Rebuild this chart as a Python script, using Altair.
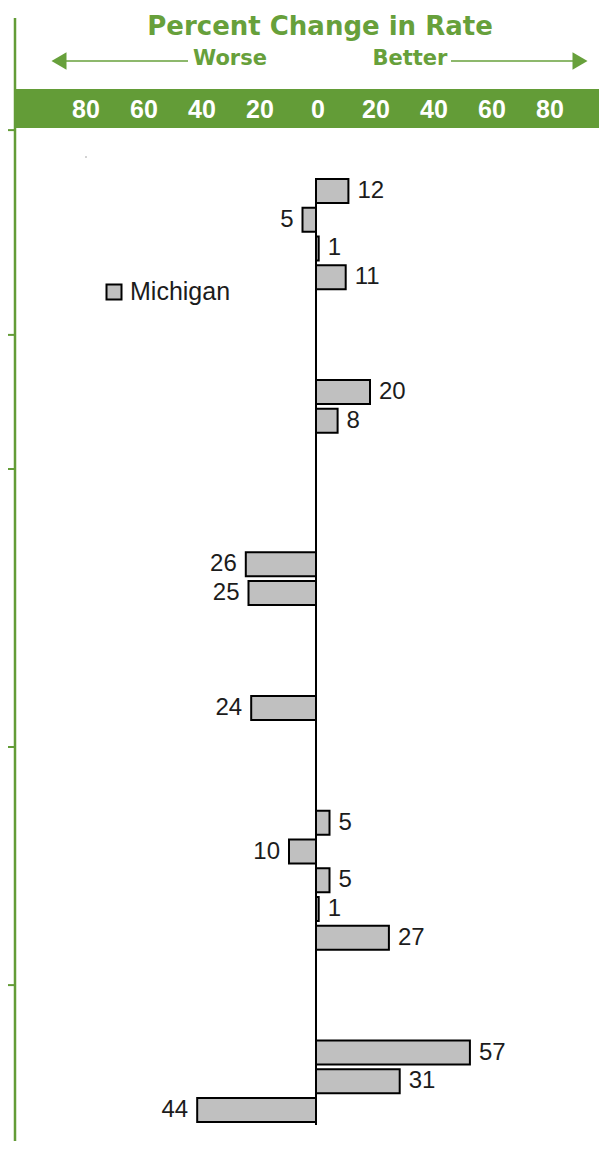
import altair as alt
import pandas as pd

# ---- data ----
rows = [0, 1, 2, 3, 7, 8, 13, 14, 18, 22, 23, 24, 25, 26, 30, 31, 32]
values = [12, -5, 1, 11, 20, 8, -26, -25, -24, 5, -10, 5, 1, 27, 57, 31, -44]
tick_labels = [-80, -60, -40, -20, 0, 20, 40, 60, 80]
group_breaks = [-2.12, 5.01, 9.68, 19.36, 27.65]
series_name = "Michigan"
title_text = "Percent Change in Rate"

GREEN = "#639c37"
GREEN_TXT = "#67a03b"
BAR_FILL = "#c0c0c0"
TXT = "#1c1c1c"
FONT = "Liberation Sans"
BFONT = "DejaVu Sans"

W, H = 591, 1133

df = pd.DataFrame({"row": rows, "value": values})
one = pd.DataFrame({"a": [0]})

x_bar = alt.Scale(domain=[-114.07, 104.81], nice=False, zero=False, padding=0)
y_row = alt.Scale(domain=[-6.372, 33.078], nice=False, zero=False, reverse=True, padding=0)
x_head = alt.Scale(domain=[-106.9, 96.9], nice=False, zero=False, padding=0)

bars = alt.Chart(df).mark_bar(
    orient="horizontal", size=24, fill=BAR_FILL, stroke="black", strokeWidth=2
).encode(
    x=alt.X("value:Q", scale=x_bar, axis=None),
    x2=alt.X2Datum(0),
    y=alt.Y("row:Q", scale=y_row, axis=None),
)

lab_pos = alt.Chart(df).transform_filter("datum.value >= 0").transform_calculate(
    lab="abs(datum.value)"
).mark_text(
    align="left", baseline="middle", dx=9, font=FONT, fontSize=24, color=TXT
).encode(
    x=alt.X("value:Q", scale=x_bar, axis=None),
    y=alt.Y("row:Q", scale=y_row, axis=None),
    text="lab:Q",
)

lab_neg = alt.Chart(df).transform_filter("datum.value < 0").transform_calculate(
    lab="abs(datum.value)"
).mark_text(
    align="right", baseline="middle", dx=-9, font=FONT, fontSize=24, color=TXT
).encode(
    x=alt.X("value:Q", scale=x_bar, axis=None),
    y=alt.Y("row:Q", scale=y_row, axis=None),
    text="lab:Q",
)

zero_df = pd.DataFrame({"x": [0], "y1": [-0.45], "y2": [32.52]})
zero_rule = alt.Chart(zero_df).mark_rule(color="black", strokeWidth=2).encode(
    x=alt.X("x:Q", scale=x_bar, axis=None),
    y=alt.Y("y1:Q", scale=y_row, axis=None),
    y2="y2:Q",
)

seps = alt.Chart(pd.DataFrame({"b": group_breaks})).mark_rule(
    color=GREEN, strokeWidth=2
).encode(
    x=alt.value(0), x2=alt.value(7),
    y=alt.Y("b:Q", scale=y_row, axis=None),
)

main = alt.layer(seps, bars, zero_rule, lab_pos, lab_neg)

# ---- header ----
band = alt.Chart(one).mark_rect(color=GREEN).encode(
    x=alt.value(8), x2=alt.value(W + 10), y=alt.value(81), y2=alt.value(120)
)
vline = alt.Chart(one).mark_rule(color=GREEN, strokeWidth=2.5).encode(
    x=alt.value(7), y=alt.value(10), y2=alt.value(H + 10)
)
ticks = alt.Chart(pd.DataFrame({"tick": tick_labels})).transform_calculate(
    t="abs(datum.tick)"
).mark_text(
    align="center", baseline="middle", font=FONT, fontWeight="bold",
    fontSize=25, color="white"
).encode(
    x=alt.X("tick:Q", scale=x_head, axis=None),
    y=alt.value(102),
    text="t:Q",
)
title = alt.Chart(one).mark_text(
    text=title_text, align="center", baseline="alphabetic", font=BFONT,
    fontWeight="bold", fontSize=26, color=GREEN_TXT
).encode(x=alt.value(312), y=alt.value(27))
worse = alt.Chart(one).mark_text(
    text="Worse", align="center", baseline="alphabetic", font=BFONT,
    fontWeight="bold", fontSize=21, color=GREEN_TXT
).encode(x=alt.value(222), y=alt.value(57))
better = alt.Chart(one).mark_text(
    text="Better", align="center", baseline="alphabetic", font=BFONT,
    fontWeight="bold", fontSize=21, color=GREEN_TXT
).encode(x=alt.value(402), y=alt.value(57))
arr_l = alt.Chart(one).mark_rule(color=GREEN_TXT, strokeWidth=1.5).encode(
    x=alt.value(56), x2=alt.value(180), y=alt.value(53)
)
arr_r = alt.Chart(one).mark_rule(color=GREEN_TXT, strokeWidth=1.5).encode(
    x=alt.value(443), x2=alt.value(568), y=alt.value(53)
)
head_l = alt.Chart(one).mark_point(
    shape="triangle-left", filled=True, fill=GREEN_TXT, opacity=1, size=300
).encode(x=alt.value(51), y=alt.value(53))
head_r = alt.Chart(one).mark_point(
    shape="triangle-right", filled=True, fill=GREEN_TXT, opacity=1, size=300
).encode(x=alt.value(572), y=alt.value(53))

# ---- legend ----
leg_box = alt.Chart(one).mark_point(
    shape="square", filled=True, fill=BAR_FILL, stroke="black",
    strokeWidth=2, opacity=1, size=225
).encode(x=alt.value(106), y=alt.value(284))
leg_txt = alt.Chart(one).mark_text(
    text=series_name, align="left", baseline="alphabetic", font=FONT,
    fontSize=25, color=TXT
).encode(x=alt.value(122), y=alt.value(292))
dot = alt.Chart(one).mark_point(
    shape="circle", filled=True, color="#888888", size=2, opacity=1
).encode(x=alt.value(78), y=alt.value(149))

chart = alt.layer(
    band, vline, main, ticks, title, worse, better, arr_l, arr_r, head_l, head_r,
    leg_box, leg_txt, dot
).resolve_scale(x="independent").properties(
    width=W, height=H, padding=0, autosize=alt.AutoSizeParams(type="none"),
    background="white",
).configure_view(stroke=None)

chart.save("out.html", embed_options={"renderer": "svg", "actions": False})
